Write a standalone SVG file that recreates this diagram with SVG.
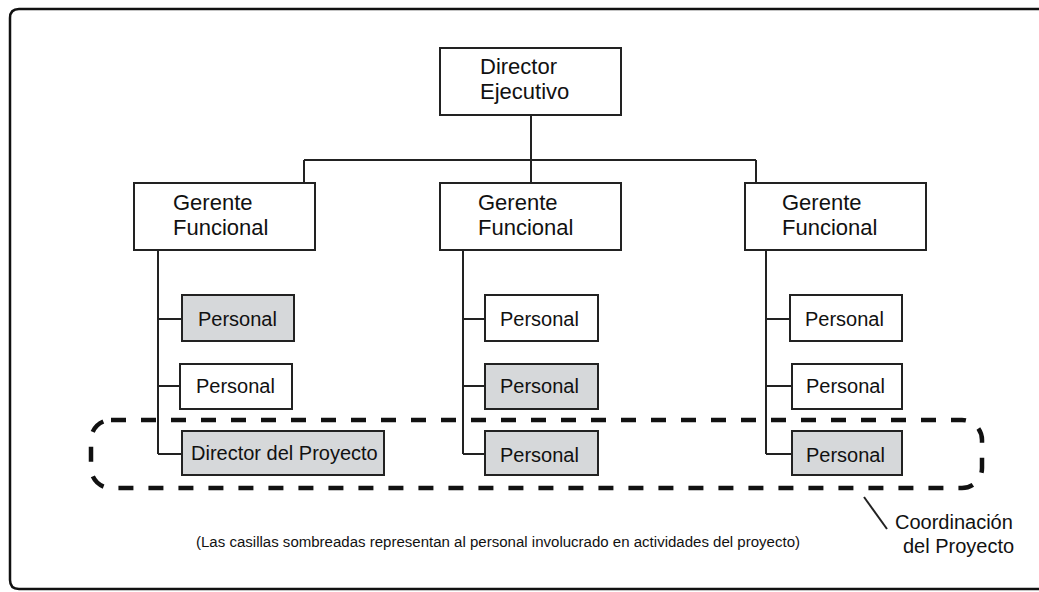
<svg xmlns="http://www.w3.org/2000/svg" width="1039" height="592" viewBox="0 0 1039 592">
<style>
.box{fill:#fff;stroke:#222;stroke-width:2}
.sh{fill:#d6d8da;stroke:#222;stroke-width:2}
.ln{fill:none;stroke:#222;stroke-width:2}
text{font-family:"Liberation Sans",Arial,sans-serif;fill:#111}
.t22{font-size:22px}
.t20{font-size:20px}
</style>
<rect width="1039" height="592" fill="#fff"/>
<path d="M1039,9 H19 Q10,9 10,18 V580 Q10,589 19,589 H1039" fill="none" stroke="#111" stroke-width="2.5"/>
<g id="connectors" class="ln">
<path class="ln" d="M531,115 V183 M304,160 H756 M304,160 V183 M756,160 V183"/>
<path class="ln" d="M158,250 V454 M158,319 H182 M158,386 H180 M158,454 H182"/>
<path class="ln" d="M463,250 V454 M463,319 H485 M463,386 H485 M463,454 H485"/>
<path class="ln" d="M766,250 V454 M766,319 H790 M766,386 H792 M766,454 H792"/>
</g>
<g id="director-ejecutivo"><rect class="box" x="440" y="48" width="181" height="67"/><text class="t22" x="480" y="74">Director</text><text class="t22" x="480" y="99">Ejecutivo</text></g>
<g id="gerente-1"><rect class="box" x="134" y="183" width="181" height="67"/><text class="t22" x="173" y="210">Gerente</text><text class="t22" x="173" y="235">Funcional</text></g>
<g id="gerente-2"><rect class="box" x="440" y="183" width="181" height="67"/><text class="t22" x="478" y="210">Gerente</text><text class="t22" x="478" y="235">Funcional</text></g>
<g id="gerente-3"><rect class="box" x="745" y="183" width="181" height="67"/><text class="t22" x="782" y="210">Gerente</text><text class="t22" x="782" y="235">Funcional</text></g>
<g id="personal-1a"><rect class="sh" x="182" y="295" width="112" height="46"/><text class="t20" x="198" y="326">Personal</text></g>
<g id="personal-1b"><rect class="box" x="180" y="364" width="112" height="45"/><text class="t20" x="196" y="393">Personal</text></g>
<g id="director-proyecto"><rect class="sh" x="182" y="431" width="202" height="44"/><text class="t20" x="191" y="460">Director del Proyecto</text></g>
<g id="personal-2a"><rect class="box" x="485" y="295" width="113" height="46"/><text class="t20" x="500" y="326">Personal</text></g>
<g id="personal-2b"><rect class="sh" x="485" y="364" width="113" height="45"/><text class="t20" x="500" y="393">Personal</text></g>
<g id="personal-2c"><rect class="sh" x="485" y="431" width="113" height="44"/><text class="t20" x="500" y="462">Personal</text></g>
<g id="personal-3a"><rect class="box" x="790" y="295" width="112" height="46"/><text class="t20" x="805" y="326">Personal</text></g>
<g id="personal-3b"><rect class="box" x="792" y="364" width="110" height="45"/><text class="t20" x="806" y="393">Personal</text></g>
<g id="personal-3c"><rect class="sh" x="792" y="431" width="110" height="44"/><text class="t20" x="806" y="462">Personal</text></g>
<g id="coordinacion">
<rect x="91" y="420" width="891" height="68" rx="20" ry="20" fill="none" stroke="#111" stroke-width="4.5" stroke-dasharray="15 15"/>
<line x1="864" y1="497" x2="887" y2="529" stroke="#222" stroke-width="2"/>
<text class="t20" x="895" y="529">Coordinación</text>
<text class="t20" x="903" y="553">del Proyecto</text>
</g>
<text x="196" y="547" font-size="14" textLength="604" lengthAdjust="spacingAndGlyphs">(Las casillas sombreadas representan al personal involucrado en actividades del proyecto)</text>
</svg>
